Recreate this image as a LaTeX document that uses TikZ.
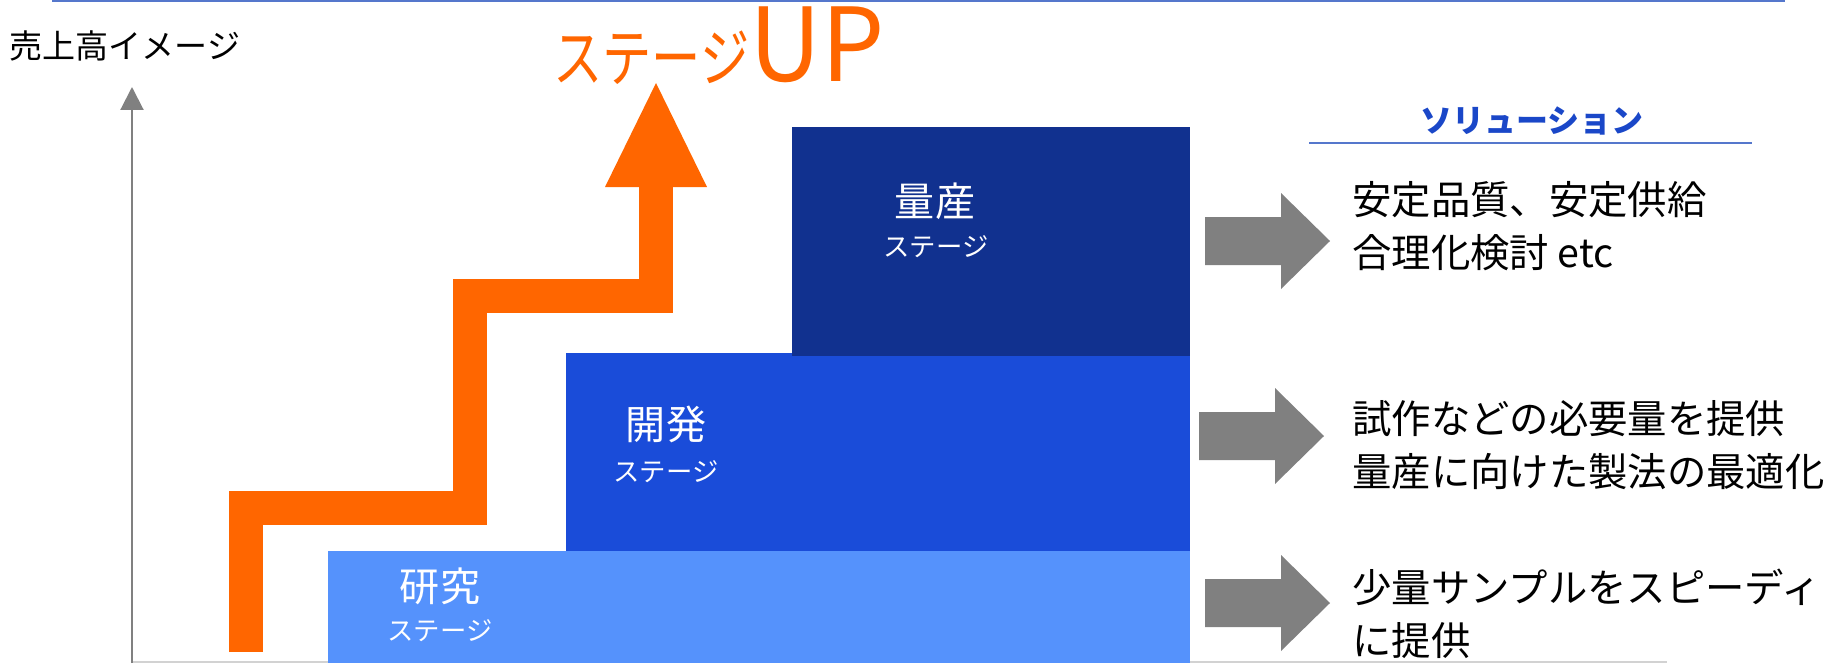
\documentclass[tikz,border=0pt]{standalone}
\usepackage{fontspec}
\usepackage{graphicx}
\setmainfont{Noto Sans CJK JP}
\usetikzlibrary{arrows.meta}
\definecolor{massblue}{HTML}{11318F}
\definecolor{devblue}{HTML}{1A4CD9}
\definecolor{resblue}{HTML}{5592FC}
\definecolor{uporange}{HTML}{FF6600}
\definecolor{arrowgray}{HTML}{808080}
\definecolor{solblue}{HTML}{1A47C8}
\definecolor{topline}{HTML}{5577CC}
\tikzset{
	stagename/.style={text=white,inner sep=0,font=\fontsize{22.8}{24}\selectfont},
	stagesub/.style={text=white,inner sep=0,font=\fontsize{15}{16}\selectfont},
	solnote/.style={anchor=west,align=left,inner sep=0,font=\fontsize{22.4}{30.2}\selectfont},
	upline/.style={draw=uporange,line width=0.68cm,line join=miter},
}
\begin{document}
\begin{tikzpicture}[x=0.02cm,y=-0.02cm,line cap=butt]
			\useasboundingbox (0,0) rectangle (1829,663);
			\draw[topline,line width=1.2pt] (52,1)--(1785,1);
			\draw[gray!35,line width=1pt] (132,662)--(1667,662);
			% stages
			\fill[resblue] (328,551) rectangle (1190,663);
			\fill[devblue] (566,353) rectangle (1190,551);
			\fill[massblue] (792,127) rectangle (1190,356);
			% axis
			\coordinate (origin) at (132,663);
			\coordinate (ytop) at (132,87);
			\draw[arrowgray,line width=1.2pt,-{Triangle[width=0.46cm,length=0.46cm]}] (origin)--(ytop);
			\node[inner sep=0,font=\fontsize{18.8}{20}\selectfont] (ylabel) at (125,46) {売上高イメージ};
			% stage up
			\draw[upline] (246,652)--(246,508)--(470,508)--(470,296)--(656,296)--(656,186);
			\fill[uporange] (605,187)--(656,83)--(707,187)--cycle;
			\node[anchor=base west,inner sep=0,text height=1.45cm,text=uporange] (uptitle) at (553,81)
				{\fontsize{33}{34}\selectfont\scalebox{0.85}[1.1]{ステージ}\fontsize{56.9}{58}\selectfont\scalebox{1}[1.02]{UP}};
			\node[stagename] (massname) at (935,201) {量産};
			\node[stagesub] (masssub) at (936,247) {ステージ};
			\node[stagename] (devname) at (666,424) {開発};
			\node[stagesub] (devsub) at (666,472) {ステージ};
			\node[stagename] (resname) at (440,586) {研究};
			\node[stagesub] (ressub) at (440,631) {ステージ};
			% solutions
			\foreach \y/\x in {241/1205,436/1199,603/1205}
				\fill[arrowgray] (\x,\y-24)--(\x+76,\y-24)--(\x+76,\y-48)--(\x+125,\y)
				--(\x+76,\y+48)--(\x+76,\y+24)--(\x,\y+24)--cycle;
			\node[inner sep=0,text=solblue,font=\fontsize{18.2}{20}\selectfont\bfseries] (soltitle) at (1532,121) {ソリューション};
			\draw[topline,line width=1pt] (1309,143)--(1752,143);
			\node[solnote] (massnote) at (1352,226) {安定品質、安定供給\\合理化検討 etc};
			\node[solnote] (devnote) at (1352,445) {試作などの必要量を提供\\量産に向けた製法の最適化};
			\node[solnote] (resnote) at (1352,614) {少量サンプルをスピーディ\\に提供};
\end{tikzpicture}
\end{document}
